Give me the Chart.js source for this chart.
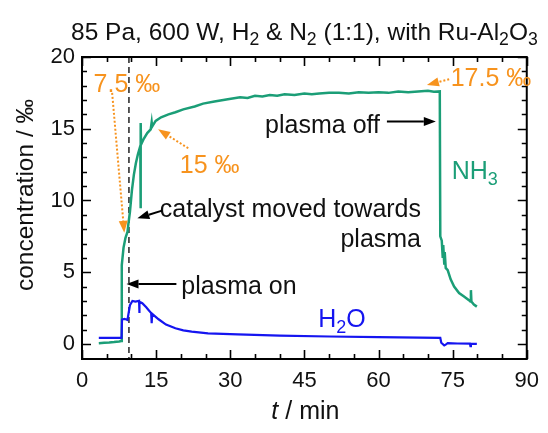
<!DOCTYPE html>
<html>
<head>
<meta charset="utf-8">
<script src="https://cdn.jsdelivr.net/npm/chart.js@4.4.1/dist/chart.umd.min.js"></script>
<style>
  html, body { margin: 0; padding: 0; background: #fff; }
</style>
</head>
<body>
<canvas id="myChart" width="548" height="433"></canvas>
<script>
// time in min, concentration in permille
var nh3Time = [3.4, 4.5, 5.5, 6.5, 7.5, 8.0, 8.05, 8.4, 8.8, 9.0, 9.2, 9.4, 9.7, 10.1, 10.5, 10.9, 11.3, 11.8,
  11.85, 11.9, 11.95, 12.5, 13.2, 13.9, 14.1, 14.2, 14.9, 16.0, 17.5, 18.9, 20.5, 22.8, 24.5, 26.8, 29.5,
  32, 33.5, 35, 36.5, 38, 39.5, 41, 43, 45, 46.5, 48, 50, 52, 54, 56, 58, 60, 62, 64, 66, 68, 70, 71.2, 72.4,
  72.5, 72.8, 73.0, 73.1, 73.3, 73.4, 73.6, 74.0,
  74.6, 75.3, 76.3, 77.3, 78.3, 78.6, 78.7, 78.8, 79.3, 79.9];
var nh3Conc = [0.05, 0.08, 0.1, 0.13, 0.17, 0.2, 5.5, 6.7, 7.4, 7.6, 7.8, 8.4, 9.2, 10.7, 11.8, 12.6, 13.2, 13.8,
  9.45, 15.4, 13.9, 14.3, 14.7, 14.95, 15.45, 15.15, 15.55, 15.8, 16.0, 16.15, 16.35, 16.55, 16.75, 16.9, 17.05,
  17.2, 17.15, 17.3, 17.25, 17.35, 17.3, 17.4, 17.35, 17.45, 17.4, 17.45, 17.5, 17.5, 17.45, 17.55, 17.5, 17.55, 17.5, 17.6, 17.55, 17.6, 17.65, 17.58, 17.6,
  7.5, 7.2, 6.0, 6.9, 5.6, 6.4, 5.3, 5.15,
  4.5, 4.0, 3.55, 3.3, 3.05, 2.95, 3.75, 2.95, 2.75, 2.6];

var h2oTime = [3.4, 6, 8.0, 8.1, 8.6, 9.2, 9.7, 10.2, 10.8, 11.55, 11.6, 11.65, 12.2, 13.0, 13.5, 14.0, 14.1, 14.2,
  15.5, 17.0, 18.9, 20.5, 22.2, 25.5, 31.5, 40, 50, 60, 72.5, 72.7, 73.3, 73.6, 74, 76, 78.5, 78.6, 78.7, 79.9];
var h2oConc = [0.42, 0.42, 0.42, 1.7, 1.75, 1.67, 2.7, 3.0, 2.95, 3.0, 2.15, 2.95, 2.84, 2.55, 2.35, 2.15, 1.45, 2.1,
  1.72, 1.35, 1.09, 0.95, 0.86, 0.74, 0.66, 0.58, 0.52, 0.47, 0.42, 0.08, -0.1, -0.05, 0.05, 0.03, 0.02, -0.15, 0.02, 0.0];

var xTicks = [0, 15, 30, 45, 60, 75, 90];
var yTicks = [0, 5, 10, 15, 20];
var plasmaOnTime = 9.5;

var FONT = '"Liberation Sans", Arial, sans-serif';
var GREEN = '#1b9e77';
var BLUE = '#1515f0';
var ORANGE = '#f7931e';
var NOTE = 25;

function toPoints(xs, ys) {
  return xs.map(function (t, i) { return { x: t, y: ys[i] }; });
}

// text pieces: [text, style] with style '' | 'sub' | 'it'
function richText(ctx, parts, x, y, size, align, color) {
  ctx.save();
  ctx.fillStyle = color;
  ctx.textBaseline = 'alphabetic';
  ctx.textAlign = 'left';
  var fontOf = function (p) {
    var s = p[1] === 'sub' ? size * 0.72 : size;
    return (p[1] === 'it' ? 'italic ' : '') + s + 'px ' + FONT;
  };
  var w = 0;
  parts.forEach(function (p) { ctx.font = fontOf(p); w += ctx.measureText(p[0]).width; });
  var cx = align === 'center' ? x - w / 2 : (align === 'right' ? x - w : x);
  parts.forEach(function (p) {
    ctx.font = fontOf(p);
    ctx.fillText(p[0], cx, p[1] === 'sub' ? y + size * 0.22 : y);
    cx += ctx.measureText(p[0]).width;
  });
  ctx.restore();
}

// note centred vertically on value v
function note(ctx, parts, px, py, align, color) {
  richText(ctx, parts, px, py + NOTE * 0.36, NOTE, align, color);
}

function arrow(ctx, x1, y1, x2, y2, color, dotted) {
  var ang = Math.atan2(y2 - y1, x2 - x1);
  var hl = 12, hw = 9;
  var bx = x2 - hl * Math.cos(ang), by = y2 - hl * Math.sin(ang);
  ctx.save();
  ctx.strokeStyle = color;
  ctx.fillStyle = color;
  ctx.lineWidth = 2;
  ctx.setLineDash(dotted ? [2, 2] : []);
  ctx.beginPath();
  ctx.moveTo(x1, y1);
  ctx.lineTo(bx, by);
  ctx.stroke();
  ctx.setLineDash([]);
  ctx.beginPath();
  ctx.moveTo(x2, y2);
  ctx.lineTo(bx + hw / 2 * Math.sin(ang), by - hw / 2 * Math.cos(ang));
  ctx.lineTo(bx - hw / 2 * Math.sin(ang), by + hw / 2 * Math.cos(ang));
  ctx.closePath();
  ctx.fill();
  ctx.restore();
}

var framePlugin = {
  id: 'framePlugin',
  beforeDatasetsDraw: function (chart) {
    var ctx = chart.ctx, a = chart.chartArea, x = chart.scales.x;
    var px = x.getPixelForValue(plasmaOnTime);
    ctx.save();
    ctx.strokeStyle = '#000';
    ctx.lineWidth = 1.3;
    ctx.setLineDash([6, 4]);
    ctx.beginPath();
    ctx.moveTo(px, a.top);
    ctx.lineTo(px, a.bottom);
    ctx.stroke();
    ctx.restore();
  },
  afterDraw: function (chart) {
    var ctx = chart.ctx, a = chart.chartArea, x = chart.scales.x, y = chart.scales.y;
    ctx.save();
    ctx.strokeStyle = '#000';
    ctx.lineWidth = 1.6;
    // inward ticks on all four sides
    for (var t = 0; t <= 90; t += 5) {
      var len = t % 15 === 0 ? 9 : 5;
      var p = Math.round(x.getPixelForValue(t)) + 0.5;
      ctx.beginPath();
      ctx.moveTo(p, a.bottom); ctx.lineTo(p, a.bottom - len);
      ctx.moveTo(p, a.top); ctx.lineTo(p, a.top + len);
      ctx.stroke();
    }
    for (var v = 0; v <= 20; v += 1) {
      var l2 = v % 5 === 0 ? 9 : 5;
      var q = Math.round(y.getPixelForValue(v)) + 0.5;
      ctx.beginPath();
      ctx.moveTo(a.left, q); ctx.lineTo(a.left + l2, q);
      ctx.moveTo(a.right, q); ctx.lineTo(a.right - l2, q);
      ctx.stroke();
    }
    ctx.lineWidth = 2;
    ctx.strokeRect(a.left, a.top, a.right - a.left, a.bottom - a.top);
    ctx.restore();

    var X = function (t) { return x.getPixelForValue(t); };
    var Y = function (v) { return y.getPixelForValue(v); };

    // title and axis titles
    richText(ctx, [['85 Pa, 600 W, H', ''], ['2', 'sub'], [' & N', ''], ['2', 'sub'], [' (1:1), with Ru-Al', ''],
      ['2', 'sub'], ['O', ''], ['3', 'sub']], (a.left + a.right) / 2, 40, 24.5, 'center', '#111');
    richText(ctx, [['t', 'it'], [' / min', '']], (a.left + a.right) / 2 + 1, 419, 25, 'center', '#111');
    ctx.save();
    ctx.translate(33, 195);
    ctx.rotate(-Math.PI / 2);
    richText(ctx, [['concentration / \u2030', '']], 0, 0, 24.5, 'center', '#111');
    ctx.restore();

    // orange concentration marks
    note(ctx, [['7.5 \u2030', '']], X(9.1), Y(18.2), 'center', ORANGE);
    arrow(ctx, X(6.1), Y(17.5), X(8.55), Y(7.75), ORANGE, true);
    note(ctx, [['15 \u2030', '']], X(19.8), Y(12.55), 'left', ORANGE);
    arrow(ctx, X(21.5), Y(13.64), X(15.4), Y(14.96), ORANGE, true);
    note(ctx, [['17.5 \u2030', '']], X(74.6), Y(18.63), 'left', ORANGE);
    arrow(ctx, X(74.3), Y(18.45), X(69.8), Y(18.05), ORANGE, true);

    // black notes
    note(ctx, [['catalyst moved towards', '']], X(68.6), Y(9.46), 'right', '#111');
    note(ctx, [['plasma', '']], X(68.6), Y(7.37), 'right', '#111');
    arrow(ctx, X(16.2), Y(9.29), X(11.2), Y(8.76), '#000', false);
    note(ctx, [['plasma on', '']], X(20.1), Y(4.11), 'left', '#111');
    arrow(ctx, X(19.1), Y(4.18), X(9.0), Y(4.18), '#000', false);
    note(ctx, [['plasma off', '']], X(60.3), Y(15.33), 'right', '#111');
    arrow(ctx, X(61.7), Y(15.5), X(71.6), Y(15.5), '#000', false);

    // series labels
    note(ctx, [['NH', ''], ['3', 'sub']], X(74.8), Y(12.1), 'left', GREEN);
    note(ctx, [['H', ''], ['2', 'sub'], ['O', '']], X(47.8), Y(1.8), 'left', BLUE);
  }
};

var ctx_chart = document.getElementById('myChart');

var myChart = new Chart(ctx_chart, {
  type: 'line',
  data: {
    datasets: [
      {
        label: 'H2O',
        data: toPoints(h2oTime, h2oConc),
        borderColor: BLUE,
        borderWidth: 2.2,
        pointRadius: 0,
        tension: 0,
      },
      {
        label: 'NH3',
        data: toPoints(nh3Time, nh3Conc),
        borderColor: GREEN,
        borderWidth: 2.5,
        pointRadius: 0,
        tension: 0,
      },
    ],
  },
  options: {
    responsive: false,
    animation: false,
    devicePixelRatio: 1,
    layout: { padding: { top: 57, right: 14, bottom: 0, left: 0 } },
    plugins: { legend: { display: false }, tooltip: { enabled: false } },
    scales: {
      x: {
        type: 'linear',
        min: 0,
        max: 90,
        grid: { display: false, drawTicks: false },
        border: { display: false },
        afterBuildTicks: function (s) { s.ticks = xTicks.map(function (v) { return { value: v }; }); },
        afterFit: function (s) { s.height = 74; },
        ticks: { padding: 9, maxRotation: 0, color: '#111', font: { family: FONT, size: 22 } },
      },
      y: {
        min: -1.05,
        max: 20,
        grid: { display: false, drawTicks: false },
        border: { display: false },
        afterBuildTicks: function (s) { s.ticks = yTicks.map(function (v) { return { value: v }; }); },
        afterFit: function (s) { s.width = 82; },
        ticks: { padding: 7, color: '#111', font: { family: FONT, size: 22 } },
      },
    },
  },
  plugins: [framePlugin],
});
</script>
</body>
</html>
